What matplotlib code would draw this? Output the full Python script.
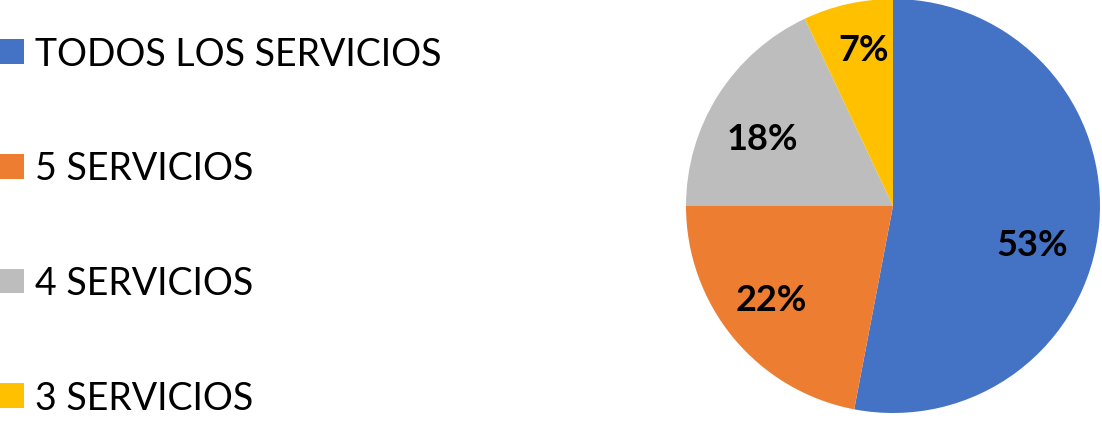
import numpy as np
import matplotlib.pyplot as plt
from matplotlib.patches import Patch

# data
categories = ["TODOS LOS SERVICIOS", "5 SERVICIOS", "4 SERVICIOS", "3 SERVICIOS"]
shares = [53, 22, 18, 7]
colors = ["#4472C4", "#ED7D31", "#BDBDBD", "#FFC000"]

plt.rcParams['font.family'] = ['Lato', 'DejaVu Sans']

fig = plt.figure(figsize=(11.02, 4.31), dpi=100)
# pie axes: centre ~ (893, 207) px, radius ~207 px
ax = fig.add_axes([686 / 1102, 17 / 431, 414 / 1102, 414 / 431])

wedges, texts, autotexts = ax.pie(shares, colors=colors, startangle=90, counterclock=False,
                                  autopct='%1.0f%%', pctdistance=0.72, radius=1,
                                  wedgeprops=dict(linewidth=0),
                                  textprops=dict(fontsize=26, fontweight='bold', color='black'))
ax.set_xlim(-1, 1)
ax.set_ylim(-1, 1)
ax.set_aspect('equal')

# Excel "best fit" label placement: nudge each label from the wedge middle
label_dist = [0.70, 0.74, 0.71, 0.77]
angle_shift = [-10, -2, 5, -2]
for w, t, d, s in zip(wedges, autotexts, label_dist, angle_shift):
    ang = np.deg2rad((w.theta1 + w.theta2) / 2 + s)
    t.set_position((d * np.cos(ang), d * np.sin(ang)))

handles = [Patch(facecolor=c, edgecolor='none') for c in colors]
fig.legend(handles, categories, loc='upper left', bbox_to_anchor=(0.0, 0.915),
           frameon=False, fontsize=27, labelspacing=2.1, borderpad=0, borderaxespad=0,
           handlelength=0.64, handleheight=0.64, handletextpad=0.3)

fig.savefig("out.png", dpi=100)
